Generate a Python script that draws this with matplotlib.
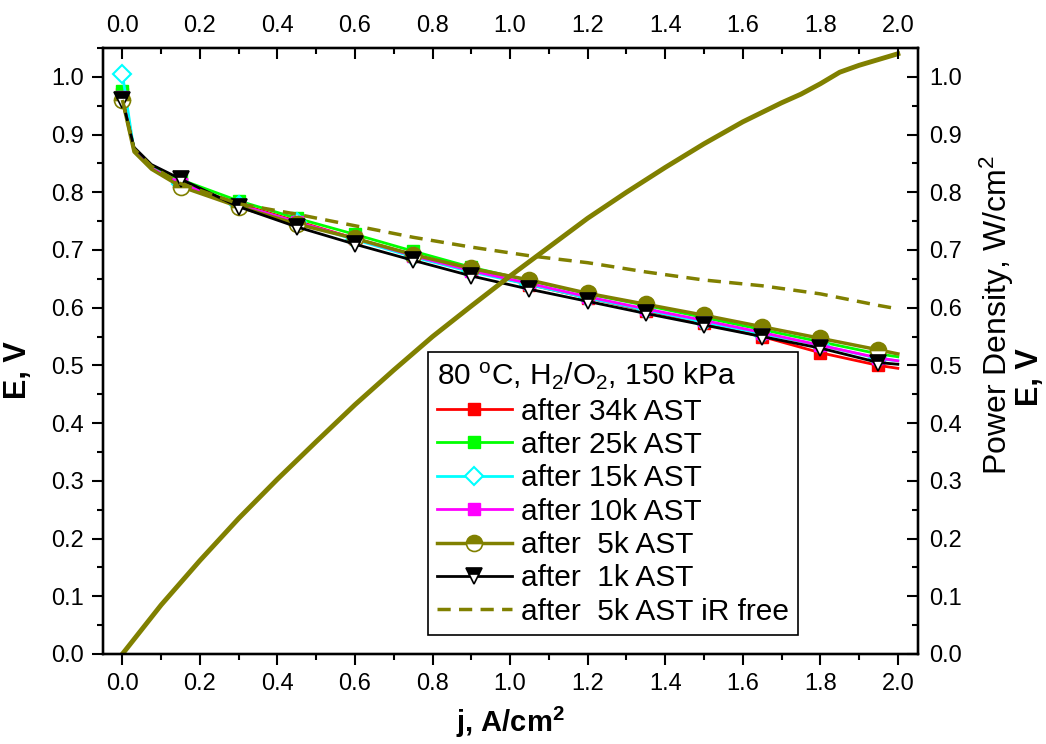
import numpy as np
import matplotlib
matplotlib.use("Agg")
import matplotlib.pyplot as plt
from matplotlib.ticker import MultipleLocator

plt.rcParams['font.family'] = ['Liberation Sans', 'DejaVu Sans']
plt.rcParams['mathtext.fontset'] = 'custom'
plt.rcParams['mathtext.rm'] = 'Liberation Sans'
plt.rcParams['mathtext.it'] = 'Liberation Sans:italic'
plt.rcParams['mathtext.bf'] = 'Liberation Sans:bold'

# polarization curves, j in A/cm2, E in V
j = [0.0, 0.03, 0.075, 0.15, 0.3, 0.45, 0.6, 0.75, 0.9, 1.05, 1.2, 1.35, 1.5, 1.65, 1.8, 1.95, 2.0]
e_34k = [0.970, 0.875, 0.842, 0.815, 0.780, 0.750, 0.720, 0.692, 0.665, 0.640, 0.617, 0.595, 0.573, 0.550, 0.522, 0.500, 0.495]
e_25k = [0.975, 0.875, 0.845, 0.822, 0.785, 0.755, 0.727, 0.698, 0.670, 0.647, 0.624, 0.604, 0.583, 0.562, 0.541, 0.520, 0.515]
e_15k = [1.005, 0.872, 0.842, 0.815, 0.778, 0.748, 0.718, 0.688, 0.662, 0.640, 0.617, 0.596, 0.575, 0.555, 0.535, 0.512, 0.508]
e_10k = [0.965, 0.872, 0.842, 0.815, 0.778, 0.748, 0.720, 0.690, 0.664, 0.642, 0.619, 0.598, 0.578, 0.557, 0.535, 0.513, 0.508]
e_5k = [0.960, 0.870, 0.840, 0.810, 0.775, 0.745, 0.720, 0.692, 0.668, 0.648, 0.625, 0.606, 0.587, 0.567, 0.547, 0.527, 0.520]
e_1k = [0.960, 0.878, 0.848, 0.823, 0.775, 0.740, 0.710, 0.682, 0.655, 0.632, 0.611, 0.590, 0.570, 0.550, 0.530, 0.505, 0.502]
e_5k_irfree = [0.960, 0.875, 0.845, 0.815, 0.780, 0.762, 0.742, 0.722, 0.705, 0.690, 0.678, 0.662, 0.648, 0.638, 0.624, 0.604, 0.598]

# power density after 5k AST, W/cm2
j_pd = [0.0, 0.1, 0.2, 0.3, 0.4, 0.5, 0.6, 0.7, 0.8, 0.9, 1.0, 1.1, 1.2, 1.3, 1.4, 1.5, 1.6, 1.7, 1.75, 1.8, 1.85, 1.9, 2.0]
pd_5k = [0.0, 0.085, 0.162, 0.235, 0.303, 0.368, 0.432, 0.492, 0.550, 0.603, 0.655, 0.705, 0.755, 0.800, 0.843,
         0.884, 0.922, 0.955, 0.970, 0.988, 1.008, 1.020, 1.040]

labels = ['after 34k AST', 'after 25k AST', 'after 15k AST', 'after 10k AST',
          'after  5k AST', 'after  1k AST', 'after  5k AST iR free']

olive = '#808000'
marks = [0] + list(range(3, 16))

fig = plt.figure(figsize=(10.46, 7.44), dpi=100)
ax = fig.add_axes([103 / 1046, 90 / 744, 815 / 1046, 606 / 744])

ax.plot(j, e_34k, color='red', lw=2, marker='s', ms=9, mec='red', mfc='red',
        markevery=marks, label=labels[0])
ax.plot(j, e_25k, color='#00ff00', lw=2, marker='s', ms=9, mec='#00ff00', mfc='#00ff00',
        markevery=marks, label=labels[1])
ax.plot(j, e_15k, color='cyan', lw=2, marker='D', ms=9, mec='cyan', mfc='white', mew=1.5,
        markevery=marks, label=labels[2])
ax.plot(j, e_10k, color='magenta', lw=2, marker='s', ms=9, mec='magenta', mfc='magenta',
        markevery=marks, label=labels[3])
ax.plot(j, e_5k, color=olive, lw=2.5, marker='o', ms=11.5, mec=olive, mfc=olive,
        fillstyle='top', markerfacecoloralt='white', mew=1.2, markevery=marks, label=labels[4])
ax.plot(j, e_1k, color='black', lw=2, marker='v', ms=11, mec='black', mfc='black',
        fillstyle='top', markerfacecoloralt='white', mew=1.2, markevery=marks, label=labels[5])
ax.plot(j, e_5k_irfree, color=olive, lw=2.5, ls=(0, (3.8, 2.4)), label=labels[6])
ax.plot(j_pd, pd_5k, color=olive, lw=3.5)

ax.set_xlim(-0.05, 2.052)
ax.set_ylim(0.0, 1.05)

ax.xaxis.set_major_locator(MultipleLocator(0.2))
ax.xaxis.set_minor_locator(MultipleLocator(0.1))
ax.yaxis.set_major_locator(MultipleLocator(0.1))
ax.yaxis.set_minor_locator(MultipleLocator(0.05))
ax.xaxis.set_major_formatter(plt.FormatStrFormatter('%.1f'))
ax.yaxis.set_major_formatter(plt.FormatStrFormatter('%.1f'))
ax.tick_params(which='both', direction='out', width=1.5, labelsize=17)
ax.tick_params(which='major', length=8, pad=6)
ax.tick_params(which='minor', length=4.5)
for s in ax.spines.values():
    s.set_linewidth(1.6)

# top and right axes repeat the same scales with inward ticks
top = ax.twiny()
top.set_xlim(ax.get_xlim())
top.xaxis.set_major_locator(MultipleLocator(0.2))
top.xaxis.set_minor_locator(MultipleLocator(0.1))
top.xaxis.set_major_formatter(plt.FormatStrFormatter('%.1f'))
top.tick_params(which='both', direction='in', width=1.5, labelsize=17)
top.tick_params(which='major', length=8, pad=8)
top.tick_params(which='minor', length=4.5)

right = ax.twinx()
right.set_ylim(ax.get_ylim())
right.yaxis.set_major_locator(MultipleLocator(0.1))
right.yaxis.set_minor_locator(MultipleLocator(0.05))
right.yaxis.set_major_formatter(plt.FormatStrFormatter('%.1f'))
right.tick_params(which='both', direction='in', width=1.5, labelsize=17)
right.tick_params(which='major', length=8, pad=8)
right.tick_params(which='minor', length=4.5)
for a in (top, right):
    for s in a.spines.values():
        s.set_linewidth(1.6)

fig.text(18 / 1046, 1 - 370 / 744, 'E, V', rotation=90, fontsize=22, fontweight='bold',
         ha='center', va='center')
fig.text(510 / 1046, 1 - 722 / 744, r'j, A/cm$^\mathbf{2}$', fontsize=21, fontweight='bold',
         ha='center', va='center')
fig.text(997 / 1046, 1 - 315 / 744, r'Power Density, W/cm$^2$', rotation=90, fontsize=23,
         ha='center', va='center')
fig.text(1030 / 1046, 1 - 377 / 744, 'E, V', rotation=90, fontsize=22, fontweight='bold',
         ha='center', va='center')

leg = ax.legend(loc='upper left', bbox_to_anchor=(428 / 1046, 1 - 352 / 744),
                bbox_transform=fig.transFigure, borderaxespad=0, fontsize=21.5,
                title=r'80 $^{\rm o}$C, H$_2$/O$_2$, 150 kPa', title_fontsize=21.5,
                handlelength=2.5, handletextpad=0.3, labelspacing=0.18,
                borderpad=0.3, fancybox=False, edgecolor='black', framealpha=1)
leg.get_frame().set_linewidth(1.2)
leg._legend_box.align = 'left'

fig.savefig('out.png', dpi=100)
